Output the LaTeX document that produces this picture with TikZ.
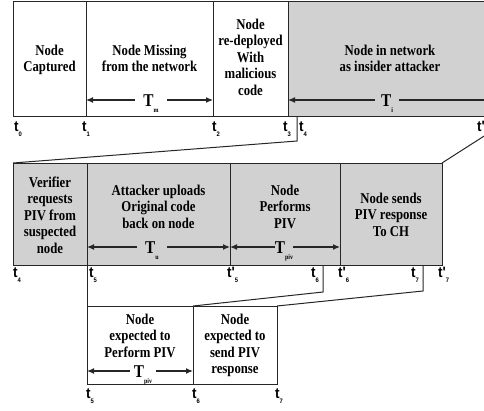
\documentclass[tikz,border=0pt]{standalone}
\usepackage{fontspec}
\setmainfont{Liberation Serif}[FakeStretch=0.85]
\newfontfamily\tfont{Liberation Sans}[FakeStretch=0.9]
\usetikzlibrary{arrows.meta}
\newcommand\tsb[1]{\raisebox{-5.5pt}{\fontsize{6.5}{6.5}\selectfont #1}}
\newcommand\Tsb[1]{\raisebox{-6.5pt}{\fontsize{7}{7}\selectfont #1}}
\tikzset{
  box/.style={draw=black!85, line width=1pt},
  gbox/.style={box, fill=black!18},
  txt/.style={font=\fontsize{15}{16.5}\selectfont\bfseries, align=center, inner sep=0pt},
  tl/.style={font=\tfont\fontsize{15}{15}\selectfont\bfseries, anchor=base west, inner sep=0pt},
  Tl/.style={font=\fontsize{18}{18}\selectfont\bfseries, anchor=base, inner ysep=0pt},
  arr/.style={-{Latex[length=7pt,width=6pt]}, line width=1.2pt, draw=black!85},
  con/.style={line width=1pt, draw=black!85}
}
\begin{document}
\begin{tikzpicture}[x=1pt,y=-1pt]
\useasboundingbox (0,0) rectangle (484,410);
% ---------- row 1 ----------
\fill[black!18] (288,1) rectangle (492,116);
\draw[box] (492,1) -- (13,1) -- (13,116) -- (492,116);
\draw[box] (86,1) -- (86,116) (213,1) -- (213,116) (288,1) -- (288,116);
\node[txt] (captured) at (49.5,60) {Node\\Captured};
\node[txt] (missing) at (149.5,58.3) {Node Missing\\from the network};
\node[txt] (redeploy) at (250.5,57) {Node\\re-deployed\\With\\malicious\\code};
\node[txt] (insider) at (390,58.3) {Node in network\\as insider attacker};
\coordinate (m1) at (86,100); \coordinate (m2) at (213,100);
\node[Tl, inner xsep=8pt] (Tm) at (151,106) {T\Tsb{m}};
\draw[arr] (Tm.west |- m1) -- (m1);
\draw[arr] (Tm.east |- m2) -- (m2);
\coordinate (i1) at (288,100); \coordinate (i2) at (492,100);
\node[Tl, inner xsep=6pt] (Ti) at (387,106) {T\Tsb{i}};
\draw[arr] (Ti.west |- i1) -- (i1);
\draw[con, line width=1.2pt] (Ti.east |- i2) -- (i2);
\node[tl] (t0) at (14,131) {t\tsb{0}};
\node[tl] (t1) at (82,131) {t\tsb{1}};
\node[tl] (t2) at (212,131) {t\tsb{2}};
\node[tl] (t3) at (283,131) {t\tsb{3}};
\node[tl] (t4a) at (299,131) {t\tsb{4}};
\node[tl] (tp) at (477,131) {t'};
% ---------- zoom connectors row1 -> row2 ----------
\coordinate (z1) at (297,116); \coordinate (z2) at (297,141);
\coordinate (r2tl) at (13,163); \coordinate (r2tr) at (442,163);
\coordinate (z3) at (492,131);
\draw[con] (z1) -- (z2) -- (r2tl);
\draw[con] (r2tr) -- (z3);
% ---------- row 2 ----------
\draw[gbox] (13,163) rectangle (442,265);
\draw[box] (87,163) -- (87,265) (230,163) -- (230,265) (340,163) -- (340,265);
\node[txt] (verifier) at (50,215) {Verifier\\requests\\PIV from\\suspected\\node};
\node[txt] (upload) at (158.5,206.5) {Attacker uploads\\Original code\\back on node};
\node[txt] (performs) at (285,206.5) {Node\\Performs\\PIV};
\node[txt] (sends) at (391,214.5) {Node sends\\PIV response\\To CH};
\coordinate (u1) at (87,247); \coordinate (u2) at (230,247);
\node[Tl, inner xsep=8pt] (Tu) at (152,253) {T\Tsb{u}};
\draw[arr] (Tu.west |- u1) -- (u1);
\draw[arr] (Tu.east |- u2) -- (u2);
\coordinate (p1) at (230,247); \coordinate (p2) at (340,247);
\node[Tl, inner xsep=0pt] (Tp) at (284,253) {T\Tsb{piv}};
\draw[arr] (Tp.west |- p1) -- (p1);
\draw[arr] (Tp.east |- p2) -- (p2);
\node[tl] (t4b) at (13,277) {t\tsb{4}};
\node[tl] (t5b) at (89,277) {t\tsb{5}};
\node[tl] (t5p) at (227,277) {t'\tsb{5}};
\node[tl] (t6b) at (311,277) {t\tsb{6}};
\node[tl] (t6p) at (338,277) {t'\tsb{6}};
\node[tl] (t7b) at (411,277) {t\tsb{7}};
\node[tl] (t7p) at (438,277) {t'\tsb{7}};
% ---------- connectors row2 -> row3 ----------
\coordinate (a1) at (87,265); \coordinate (r3tl) at (87,306);
\coordinate (b1) at (323,265); \coordinate (b2) at (323,292); \coordinate (r3m) at (193,306);
\coordinate (c1) at (423,265); \coordinate (c2) at (423,291); \coordinate (r3tr) at (277,306);
\draw[con] (a1) -- (r3tl);
\draw[con] (b1) -- (b2) -- (r3m);
\draw[con] (c1) -- (c2) -- (r3tr);
% ---------- row 3 ----------
\draw[box] (87,306) rectangle (277,384);
\draw[box] (193,306) -- (193,384);
\node[txt] (expperf) at (140,335.5) {Node\\expected to\\Perform PIV};
\node[txt] (expsend) at (235,345.4) {Node\\expected to\\send PIV\\response};
\coordinate (q1) at (87,371); \coordinate (q2) at (193,371);
\node[Tl, inner xsep=4pt] (Tq) at (143,377) {T\Tsb{piv}};
\draw[arr] (Tq.west |- q1) -- (q1);
\draw[arr] (Tq.east |- q2) -- (q2);
\node[tl] (t5c) at (86,398) {t\tsb{5}};
\node[tl] (t6c) at (192,398) {t\tsb{6}};
\node[tl] (t7c) at (275,398) {t\tsb{7}};
\end{tikzpicture}
\end{document}
